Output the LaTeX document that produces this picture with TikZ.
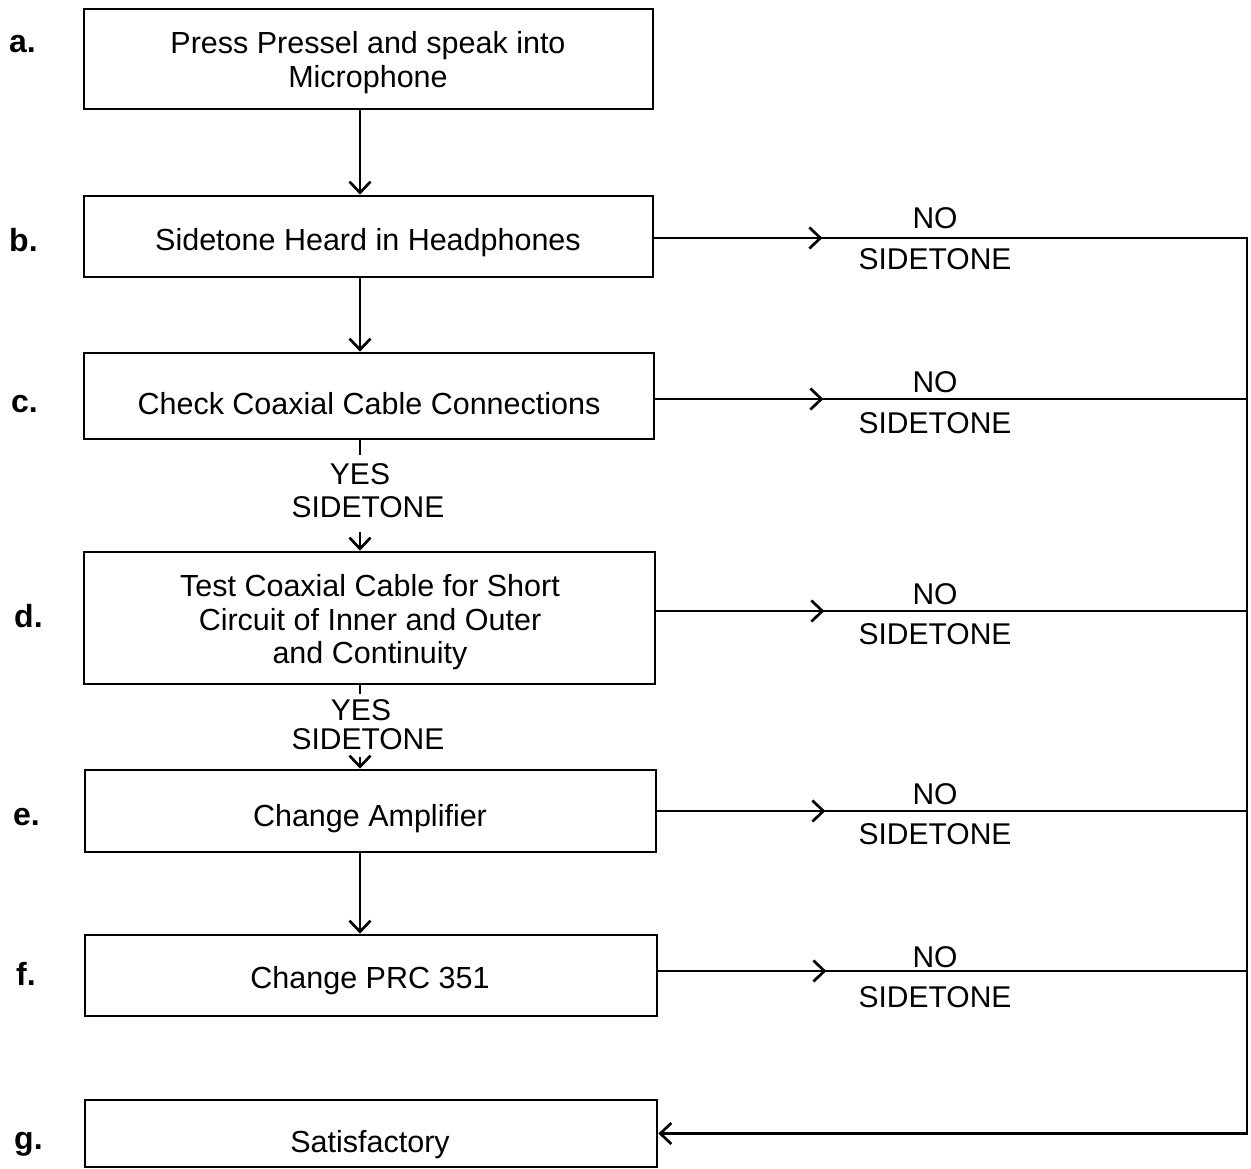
\documentclass[tikz,border=0pt]{standalone}
\usepackage{fontspec}
\setmainfont{Liberation Sans}
\usetikzlibrary{arrows.meta}
\begin{document}
\begin{tikzpicture}[x=1pt,y=-1pt,
  box/.style={draw,line width=2.7pt,rectangle,inner sep=0pt},
  txt/.style={anchor=base,inner sep=0pt,font=\fontsize{30.5}{34}\selectfont},
  lab/.style={anchor=base,inner sep=0pt,font=\fontsize{30}{34}\selectfont},
  letter/.style={anchor=base west,inner sep=0pt,font=\fontsize{32}{34}\selectfont\bfseries},
  ln/.style={line width=2.7pt},
  arr/.style={line width=2.7pt,-{Straight Barb[length=11pt,width=21pt,line width=2.7pt]}}]
\useasboundingbox (0,0) rectangle (1251,1169);
\coordinate (col) at (360,0);
\coordinate (rt) at (1247,0);
% boxes
\node[box,minimum width=569pt,minimum height=100pt] (a) at (368.5,59) {};
\node[box,minimum width=569pt,minimum height=81pt] (b) at (368.5,236.5) {};
\node[box,minimum width=570pt,minimum height=86pt] (c) at (369,396) {};
\node[box,minimum width=571pt,minimum height=132pt] (d) at (369.5,618) {};
\node[box,minimum width=571pt,minimum height=82pt] (e) at (370.5,811) {};
\node[box,minimum width=572pt,minimum height=81pt] (f) at (371,975.5) {};
\node[box,minimum width=572pt,minimum height=67pt] (g) at (371,1133.5) {};
% box texts
\node[txt] (a1) at (368,54) {Press Pressel and speak into};
\node[txt] (a2) at (368,88) {Microphone};
\node[txt] (b1) at (368,251) {Sidetone Heard in Headphones};
\node[txt] (c1) at (369,414) {Check Coaxial Cable Connections};
\node[txt] (d1) at (370,596) {Test Coaxial Cable for Short};
\node[txt] (d2) at (370,630) {Circuit of Inner and Outer};
\node[txt] (d3) at (370,663) {and Continuity};
\node[txt] (e1) at (370,826) {Change Amplifier};
\node[txt] (f1) at (370,988) {Change PRC 351};
\node[txt] (g1) at (370,1152) {Satisfactory};
% letters
\node[letter] (la) at (9,53) {a.};
\node[letter] (lb) at (9,252) {b.};
\node[letter] (lc) at (11,412) {c.};
\node[letter] (ld) at (14,627) {d.};
\node[letter] (le) at (13,825) {e.};
\node[letter] (lf) at (16,985) {f.};
\node[letter] (lg) at (14,1149) {g.};
% vertical main flow
\draw[arr] (a.south -| col) -- (b.north -| col);
\draw[arr] (b.south -| col) -- (c.north -| col);
\draw[ln] (c.south -| col) -- ++(0,15);
\node[lab] (ycd) at (360,484) {YES};
\node[lab] (scd) at (368,517) {SIDETONE};
\coordinate (cdtop) at (360,532);
\draw[arr] (cdtop) -- (d.north -| col);
\draw[ln] (d.south -| col) -- ++(0,9);
\node[lab] (yde) at (361,720) {YES};
\node[lab] (sde) at (368,749) {SIDETONE};
\coordinate (detop) at (360,757);
\draw[arr] (detop) -- (e.north -| col);
\draw[arr] (e.south -| col) -- (f.north -| col);
% right branches
\foreach \n/\dy/\ny/\sy in {b/-1.5/229/270,c/-3/392/433,d/7/604/644,e/0/804/844,f/4.5/967/1007}{
  \draw[ln] ([yshift=\dy pt]\n.east) -- ([yshift=\dy pt]\n.east -| rt);
  \draw[arr] ([yshift=\dy pt]\n.east) -- ++(168,0);
  \node[lab] (no\n) at (935,\ny) {NO};
  \node[lab] (sd\n) at (935,\sy) {SIDETONE};
}
\coordinate (gr) at (g.east -| rt);
\draw[ln,line cap=rect] ([yshift=-1.5pt]b.east -| rt) -- (gr);
\draw[arr] (gr) -- (g.east);
\end{tikzpicture}
\end{document}
